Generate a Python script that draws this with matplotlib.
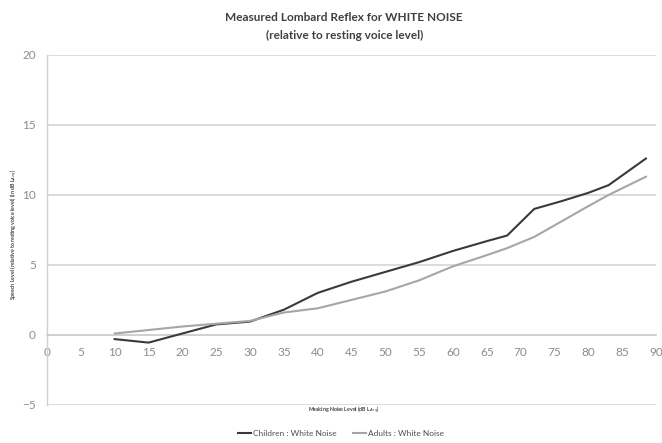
import matplotlib
matplotlib.use("Agg")
import matplotlib.pyplot as plt

noise_level = [10, 15, 20, 25, 30, 35, 40, 45, 50, 55, 60, 65, 68, 72, 76, 80, 83, 88.5]
children = [-0.3, -0.55, 0.1, 0.75, 0.95, 1.8, 3.0, 3.8, 4.5, 5.2, 6.0, 6.7, 7.1, 9.0, 9.55, 10.15, 10.7, 12.6]
adults = [0.1, 0.35, 0.6, 0.8, 1.0, 1.6, 1.9, 2.5, 3.1, 3.9, 4.9, 5.7, 6.2, 7.0, 8.1, 9.2, 10.0, 11.3]
x_ticks = list(range(0, 95, 5))
y_ticks = [-5, 0, 5, 10, 15, 20]

plt.rcParams['font.family'] = ['Lato', 'DejaVu Sans']

fig = plt.figure(figsize=(6.62, 4.43), dpi=100)
ax = fig.add_axes([0.071, 0.086, 0.92, 0.79])

ax.plot(noise_level, children, color='#3a3a3a', lw=1.5, label='Children : White Noise', zorder=3)
ax.plot(noise_level, adults, color='#a6a6a6', lw=1.5, label='Adults : White Noise', zorder=3)

ax.set_xlim(0, 90)
ax.set_ylim(-5, 20)
ax.set_yticks(y_ticks)
ax.set_xticks(x_ticks)
ax.grid(axis='y', color='#d9d9d9', lw=1.3)
ax.grid(axis='x', visible=False)
for s in ['top', 'right']:
    ax.spines[s].set_visible(False)
ax.spines['left'].set_color('#d0d0d0')
ax.spines['left'].set_linewidth(1.0)
ax.spines['bottom'].set_position(('data', 0))
ax.spines['bottom'].set_color('#d0d0d0')
ax.spines['bottom'].set_linewidth(1.3)
ax.tick_params(axis='both', length=0, colors='#8c8c8c', labelsize=8.5)
ax.tick_params(axis='x', pad=9)
ax.tick_params(axis='y', pad=8)

fig.text(0.52, 0.96, 'Measured Lombard Reflex for WHITE NOISE', ha='center', va='center',
         fontsize=8.5, fontweight='bold', color='#404040')
fig.text(0.52, 0.92, '(relative to resting voice level)', ha='center', va='center',
         fontsize=8.5, fontweight='bold', color='#404040')
fig.text(0.021, 0.47, 'Speech Level (relative to resting voice level) (in dB L$_{Aeq}$)', rotation=90,
         ha='center', va='center', fontsize=3.8, fontweight='bold', color='#404040')
fig.text(0.52, 0.074, 'Masking Noise Level (dB L$_{Aeq}$)', ha='center', va='center',
         fontsize=3.8, fontweight='bold', color='#404040')

leg = fig.legend(loc='center', bbox_to_anchor=(0.515, 0.022), ncol=2, frameon=False,
                 fontsize=6, handlelength=1.6, handletextpad=0.2, columnspacing=2.0)
for t in leg.get_texts():
    t.set_color('#505050')

fig.savefig('out.png', dpi=100)
